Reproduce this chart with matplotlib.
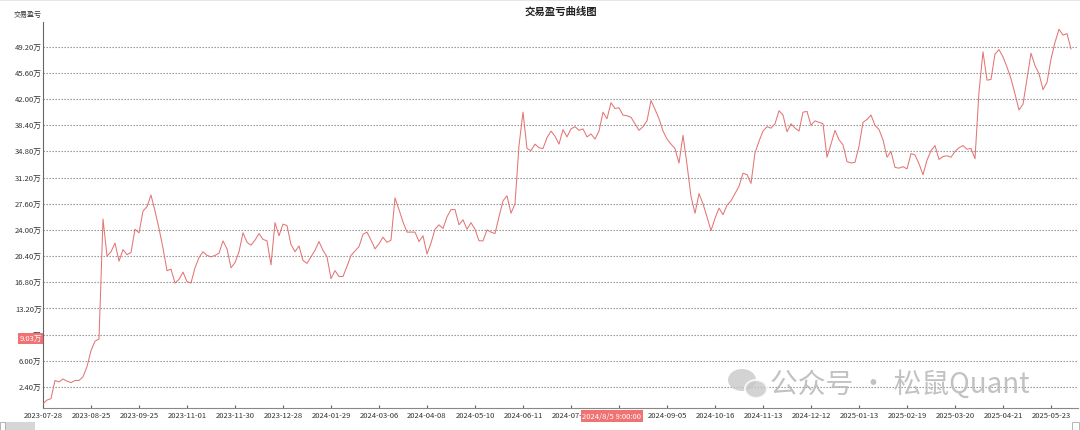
import numpy as np
import matplotlib
matplotlib.use("Agg")
import matplotlib.pyplot as plt
from matplotlib.patches import Ellipse, Rectangle

plt.rcParams['font.family'] = ['Noto Sans CJK SC', 'DejaVu Sans']

# equity curve (万), sampled evenly along the time axis
pnl = [
    0.1, 0.6, 0.8, 3.3, 3.1, 3.5, 3.2, 3.0, 3.3, 3.3,
    3.8, 5.2, 7.4, 8.7, 9.0, 25.5, 20.4, 21.0, 22.2, 19.7,
    21.3, 20.6, 20.9, 24.1, 23.6, 26.6, 27.2, 28.8, 26.6, 24.2,
    21.5, 18.4, 18.6, 16.7, 17.2, 18.2, 16.9, 16.7, 18.8, 20.2,
    21.0, 20.5, 20.3, 20.5, 20.8, 22.5, 21.4, 18.8, 19.5, 21.0,
    23.6, 22.3, 21.9, 22.6, 23.5, 22.7, 22.5, 19.2, 25.0, 23.2,
    24.8, 24.6, 22.0, 21.0, 21.8, 19.8, 19.4, 20.3, 21.2, 22.4,
    21.2, 20.3, 17.3, 18.4, 17.6, 17.6, 19.0, 20.5, 21.1, 21.7,
    23.4, 23.7, 22.6, 21.4, 22.1, 23.0, 22.3, 22.6, 28.4, 26.8,
    25.1, 23.7, 23.7, 23.7, 22.4, 23.2, 20.7, 22.2, 24.1, 24.7,
    24.2, 25.8, 26.8, 26.8, 24.7, 25.4, 24.1, 25.0, 24.1, 22.5,
    22.5, 24.0, 23.7, 23.5, 25.8, 28.0, 28.7, 26.3, 27.6, 35.6,
    40.2, 35.2, 34.9, 35.8, 35.3, 35.2, 36.7, 37.6, 36.9, 35.8,
    37.8, 36.8, 37.9, 38.2, 37.7, 37.9, 36.8, 37.2, 36.5, 37.6,
    40.2, 39.3, 41.5, 40.7, 40.8, 39.8, 39.7, 39.5, 38.6, 37.7,
    38.2, 39.0, 41.8, 40.6, 39.3, 37.6, 36.5, 35.8, 35.2, 33.2,
    37.0, 33.0, 28.6, 26.3, 29.0, 27.6, 25.8, 23.9, 25.6, 27.0,
    26.1, 27.4, 28.0, 29.0, 30.0, 31.8, 31.6, 30.4, 34.6, 36.2,
    37.6, 38.2, 38.0, 38.6, 40.4, 39.8, 37.5, 38.6, 38.0, 37.6,
    40.2, 40.3, 38.4, 39.0, 38.8, 38.6, 34.0, 35.8, 37.7, 36.4,
    35.7, 33.4, 33.2, 33.3, 35.5, 38.8, 39.2, 39.8, 38.4, 37.8,
    36.4, 34.0, 34.8, 32.6, 32.5, 32.7, 32.4, 34.5, 34.3, 33.1,
    31.6, 33.6, 34.9, 35.6, 33.7, 34.1, 34.2, 34.0, 34.8, 35.3,
    35.6, 35.1, 35.2, 33.8, 43.0, 48.5, 44.6, 44.7, 48.2, 48.8,
    47.8, 46.4, 44.8, 42.7, 40.5, 41.3, 44.8, 48.3, 46.6, 45.5,
    43.3, 44.3, 47.5, 49.8, 51.6, 50.8, 51.0, 48.9,
]

# the August label sits under the crosshair box, so it stays blank
date_labels = [
    '2023-07-28', '2023-08-25', '2023-09-25', '2023-11-01', '2023-11-30',
    '2023-12-28', '2024-01-29', '2024-03-06', '2024-04-08', '2024-05-10',
    '2024-06-11', '2024-07-10', '', '2024-09-05', '2024-10-16',
    '2024-11-13', '2024-12-12', '2025-01-13', '2025-02-19', '2025-03-20',
    '2025-04-21', '2025-05-23',
]
label_step = 12

y_ticks = [2.4, 6.0, 9.6, 13.2, 16.8, 20.4, 24.0, 27.6, 31.2, 34.8, 38.4, 42.0, 45.6, 49.2]
cursor_value = 9.03
cursor_time = '2024/8/5 9:00:00'

W, H = 1080, 431
fig = plt.figure(figsize=(W / 100, H / 100), dpi=100)
ax = fig.add_axes([43 / W, 1 - 409.3 / H, (1078 - 43) / W, (409.3 - 22.7) / H])

x = np.arange(len(pnl))
ax.plot(x, pnl, color='#e06666', lw=0.75, alpha=0.9, zorder=3)

ax.set_xlim(0, 258.75)
ax.set_ylim(-0.53, 52.64)

ax.set_yticks(y_ticks)
ax.set_yticklabels([f'{v:.2f}万' for v in y_ticks])
ax.set_xticks(np.arange(len(date_labels)) * label_step)
ax.set_xticklabels(date_labels)

ax.grid(axis='y', color='#8a8a8a', linestyle=(0, (1.2, 1.5)), lw=0.8)
ax.tick_params(axis='y', length=0, pad=1, labelsize=5.5, labelcolor='#333333')
ax.tick_params(axis='x', length=2, direction='in', pad=2, labelsize=5.5,
               labelcolor='#333333', color='#666666')

for s in ['top', 'right']:
    ax.spines[s].set_visible(False)
ax.spines['left'].set_color('#666666')
ax.spines['bottom'].set_color('#888888')

fig.text(561 / W, 1 - 12 / H, '交易盈亏曲线图', ha='center', va='center',
         fontsize=7.5, fontweight='bold', color='#222222')
fig.text(28 / W, 1 - 15 / H, '交易盈亏', ha='center', va='center',
         fontsize=5, color='#333333')

# crosshair labels
fig.text(41.5 / W, 1 - 339.5 / H, f'{cursor_value:.2f}万', ha='right', va='center',
         fontsize=5.5, color='white', zorder=10,
         bbox=dict(boxstyle='square,pad=0.15', fc='#f07272', ec='none'))
fig.text(612 / W, 1 - 417 / H, cursor_time, ha='center', va='center',
         fontsize=5.5, color='white', zorder=10,
         bbox=dict(boxstyle='square,pad=0.2', fc='#f07272', ec='none'))

# watermark
fig.add_artist(Ellipse((742 / W, 1 - 381 / H), 28 / W, 22 / H,
                       transform=fig.transFigure, fc='#c8c8c8', ec='none', alpha=0.8))
fig.add_artist(Ellipse((756 / W, 1 - 390 / H), 22 / W, 18 / H,
                       transform=fig.transFigure, fc='#c8c8c8', ec='white', lw=1.5, alpha=0.8))
fig.text(770 / W, 1 - 385 / H, '公众号 · 松鼠Quant', ha='left', va='center',
         fontsize=20, color='#b8b8b8', alpha=0.85)

# scrollbar and frame bits
fig.add_artist(Rectangle((5 / W, 0), 30 / W, 8 / H, transform=fig.transFigure,
                         fc='#d6d6d6', ec='none'))
fig.add_artist(Rectangle((0, 0), 5 / W, 8 / H, transform=fig.transFigure,
                         fc='none', ec='#aaaaaa', lw=0.6))
fig.add_artist(Rectangle((1072 / W, 0), 7 / W, 8 / H, transform=fig.transFigure,
                         fc='none', ec='#aaaaaa', lw=0.6))
fig.add_artist(Rectangle((0, 1 - 2 / H), 1, 2 / H, transform=fig.transFigure,
                         fc='#e6e6e6', ec='none'))

fig.savefig('out.png', dpi=100)
